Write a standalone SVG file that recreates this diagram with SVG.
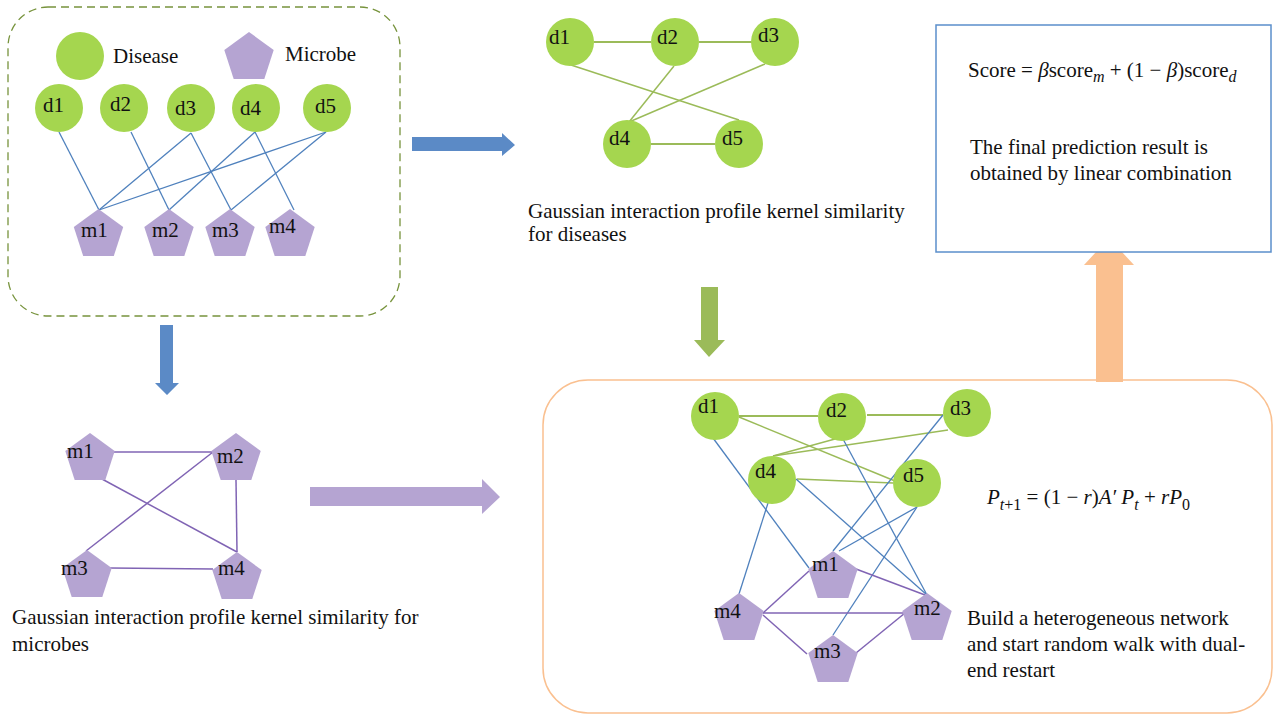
<svg xmlns="http://www.w3.org/2000/svg" xmlns:xlink="http://www.w3.org/1999/xlink" width="1273" height="716" viewBox="0 0 1273 716">
<style>
text{font-family:"Liberation Serif","Times New Roman",serif;font-size:21px;fill:#111}
.dis{fill:#A5D64F}
.mic{fill:#B5A4D2}
.eb{stroke:#4F81BD;stroke-width:1.3;fill:none}
.eg{stroke:#9BBB59;stroke-width:1.5;fill:none}
.egt{stroke:#9BBB59;stroke-width:2.2;fill:none}
.ep{stroke:#8064B4;stroke-width:1.5;fill:none}
.it{font-style:italic}
.sub{font-size:16px}
</style>
<defs>
<polygon id="pent" points="0,-26 24.7,-8 15.3,21 -15.3,21 -24.7,-8"/>
</defs>
<rect width="1273" height="716" fill="#fff"/>

<!-- frames -->
<g id="frame-input">
<rect x="8" y="7" width="392" height="309" rx="40" fill="none" stroke="#77933C" stroke-width="1.3" stroke-dasharray="8 5"/>
</g>
<g id="frame-network">
<rect x="543" y="380" width="729" height="333" rx="45" fill="#fff" stroke="#FAC090" stroke-width="1.5"/>
</g>

<!-- connectors -->
<g id="connectors">
<!-- top-left bipartite -->
<line class="eb" x1="59" y1="132" x2="99" y2="210"/>
<line class="eb" x1="131" y1="132" x2="169" y2="210"/>
<line class="eb" x1="191" y1="133" x2="99" y2="210"/>
<line class="eb" x1="191" y1="133" x2="231" y2="210"/>
<line class="eb" x1="255" y1="132" x2="169" y2="210"/>
<line class="eb" x1="255" y1="132" x2="294" y2="210"/>
<line class="eb" x1="326" y1="132" x2="99" y2="210"/>
<line class="eb" x1="326" y1="132" x2="231" y2="210"/>
<!-- disease similarity -->
<line class="egt" x1="594" y1="42" x2="651" y2="42"/>
<line class="egt" x1="699" y1="42" x2="752" y2="42"/>
<line class="eg" x1="571" y1="65" x2="739" y2="120"/>
<line class="eg" x1="674" y1="66" x2="629" y2="122"/>
<line class="eg" x1="765" y1="64" x2="629" y2="122"/>
<line class="egt" x1="651" y1="144" x2="715" y2="144"/>
<!-- microbe similarity -->
<line class="ep" x1="113" y1="452" x2="213" y2="452"/>
<line class="ep" x1="102" y1="479" x2="237" y2="552"/>
<line class="ep" x1="213" y1="452" x2="86" y2="551"/>
<line class="ep" x1="236" y1="480" x2="237" y2="552"/>
<line class="ep" x1="110" y1="568" x2="213" y2="569"/>
<!-- heterogeneous network -->
<line class="egt" x1="739" y1="416" x2="818" y2="416"/>
<line class="egt" x1="867" y1="415" x2="943" y2="415"/>
<line class="eg" x1="739" y1="417" x2="895" y2="481"/>
<line class="eg" x1="773" y1="456" x2="835" y2="439"/>
<line class="eg" x1="773" y1="456" x2="948" y2="430"/>
<line class="eg" x1="797" y1="479" x2="893" y2="483"/>
<line class="eb" x1="713" y1="438" x2="809" y2="568"/>
<line class="eb" x1="843" y1="439" x2="927" y2="595"/>
<line class="eb" x1="943" y1="415" x2="833" y2="551"/>
<line class="eb" x1="768" y1="503" x2="739" y2="594"/>
<line class="eb" x1="796" y1="479" x2="927" y2="595"/>
<line class="eb" x1="917" y1="507" x2="839" y2="551"/>
<line class="eb" x1="917" y1="507" x2="833" y2="635"/>
<line class="ep" x1="856" y1="569" x2="925" y2="595"/>
<line class="ep" x1="763" y1="613" x2="809" y2="571"/>
<line class="ep" x1="763" y1="613" x2="905" y2="613"/>
<line class="ep" x1="763" y1="615" x2="807" y2="654"/>
<line class="ep" x1="856" y1="653" x2="905" y2="613"/>
</g>

<!-- flow arrows -->
<g id="arrows">
<polygon fill="#5B8AC6" points="412,137 502,137 502,133 515,145 502,156 502,151 412,151"/>
<polygon fill="#5B8AC6" points="160,325 173,325 173,383 179,383 167,395 155,383 160,383"/>
<polygon fill="#9BBB59" points="701,287 718,287 718,340 725,340 709,357 694,340 701,340"/>
<polygon fill="#B5A4D2" points="310,487 482,487 482,479 500,497 482,514 482,506 310,506"/>
<polygon fill="#FAC090" points="1096,382 1123,382 1123,265 1134,265 1109,238 1084,265 1096,265"/>
</g>

<g id="frame-result">
<rect x="936" y="25" width="335" height="227" fill="#fff" stroke="#5B8FCB" stroke-width="1.5"/>
<text x="968" y="77">Score = <tspan class="it">β</tspan>score<tspan class="it sub" dy="5">m</tspan><tspan dy="-5"> + (1 − </tspan><tspan class="it">β</tspan>)score<tspan class="it sub" dy="5">d</tspan></text>
<text x="970" y="154">The final prediction result is</text>
<text x="970" y="180">obtained by linear combination</text>
</g>

<!-- legend -->
<g id="legend">
<circle class="dis" cx="80" cy="56" r="24"/>
<text x="113" y="63">Disease</text>
<use href="#pent" class="mic" x="249" y="58"/>
<text x="285" y="61">Microbe</text>
</g>

<!-- top-left nodes -->
<g id="tl-d1"><circle class="dis" cx="59" cy="108" r="24"/><text x="43" y="112">d1</text></g>
<g id="tl-d2"><circle class="dis" cx="124" cy="108" r="24"/><text x="110" y="111">d2</text></g>
<g id="tl-d3"><circle class="dis" cx="191" cy="108" r="24"/><text x="175" y="115">d3</text></g>
<g id="tl-d4"><circle class="dis" cx="256" cy="108" r="24"/><text x="240" y="115">d4</text></g>
<g id="tl-d5"><circle class="dis" cx="327" cy="108" r="24"/><text x="315" y="113">d5</text></g>
<g id="tl-m1"><use href="#pent" class="mic" x="98.5" y="235"/><text x="81" y="237">m1</text></g>
<g id="tl-m2"><use href="#pent" class="mic" x="169" y="235"/><text x="152" y="237">m2</text></g>
<g id="tl-m3"><use href="#pent" class="mic" x="230" y="235"/><text x="212" y="237">m3</text></g>
<g id="tl-m4"><use href="#pent" class="mic" x="290" y="235"/><text x="269" y="233">m4</text></g>

<!-- disease similarity nodes -->
<g id="ds-d1"><circle class="dis" cx="570" cy="42" r="24"/><text x="549" y="44">d1</text></g>
<g id="ds-d2"><circle class="dis" cx="675" cy="42" r="24"/><text x="657" y="44">d2</text></g>
<g id="ds-d3"><circle class="dis" cx="775" cy="42" r="24"/><text x="758" y="42">d3</text></g>
<g id="ds-d4"><circle class="dis" cx="627" cy="144" r="24"/><text x="609" y="145">d4</text></g>
<g id="ds-d5"><circle class="dis" cx="739" cy="144" r="24"/><text x="722" y="145">d5</text></g>
<g id="ds-caption">
<text x="528" y="218">Gaussian interaction profile kernel similarity</text>
<text x="528" y="241">for diseases</text>
</g>

<!-- microbe similarity nodes -->
<g id="ms-m1"><use href="#pent" class="mic" x="90" y="459"/><text x="67" y="458">m1</text></g>
<g id="ms-m2"><use href="#pent" class="mic" x="236" y="459"/><text x="217" y="463">m2</text></g>
<g id="ms-m3"><use href="#pent" class="mic" x="87" y="576"/><text x="61" y="575">m3</text></g>
<g id="ms-m4"><use href="#pent" class="mic" x="237" y="578"/><text x="218" y="575">m4</text></g>
<g id="ms-caption">
<text x="12" y="624">Gaussian interaction profile kernel similarity for</text>
<text x="12" y="651">microbes</text>
</g>

<!-- heterogeneous network nodes -->
<g id="hn-d1"><circle class="dis" cx="715" cy="416" r="24"/><text x="698" y="413">d1</text></g>
<g id="hn-d2"><circle class="dis" cx="842" cy="417" r="24"/><text x="826" y="417">d2</text></g>
<g id="hn-d3"><circle class="dis" cx="967" cy="413" r="24"/><text x="950" y="415">d3</text></g>
<g id="hn-d4"><circle class="dis" cx="772" cy="480" r="24"/><text x="755" y="478">d4</text></g>
<g id="hn-d5"><circle class="dis" cx="917" cy="483" r="24"/><text x="903" y="482">d5</text></g>
<g id="hn-m1"><use href="#pent" class="mic" x="833" y="577"/><text x="812" y="571">m1</text></g>
<g id="hn-m2"><use href="#pent" class="mic" x="927" y="619"/><text x="914" y="615">m2</text></g>
<g id="hn-m3"><use href="#pent" class="mic" x="833" y="661"/><text x="814" y="658">m3</text></g>
<g id="hn-m4"><use href="#pent" class="mic" x="739" y="619"/><text x="714" y="618">m4</text></g>
<g id="hn-text">
<text x="987" y="504"><tspan class="it">P</tspan><tspan class="it sub" dy="6">t</tspan><tspan class="sub">+1</tspan><tspan dy="-6"> = (1 − </tspan><tspan class="it">r</tspan>)<tspan class="it">A′ P</tspan><tspan class="it sub" dy="6">t</tspan><tspan dy="-6"> + </tspan><tspan class="it">rP</tspan><tspan class="sub" dy="6">0</tspan></text>
<text x="967" y="625">Build a heterogeneous network</text>
<text x="967" y="651">and start random walk with dual-</text>
<text x="967" y="677">end restart</text>
</g>
</svg>
